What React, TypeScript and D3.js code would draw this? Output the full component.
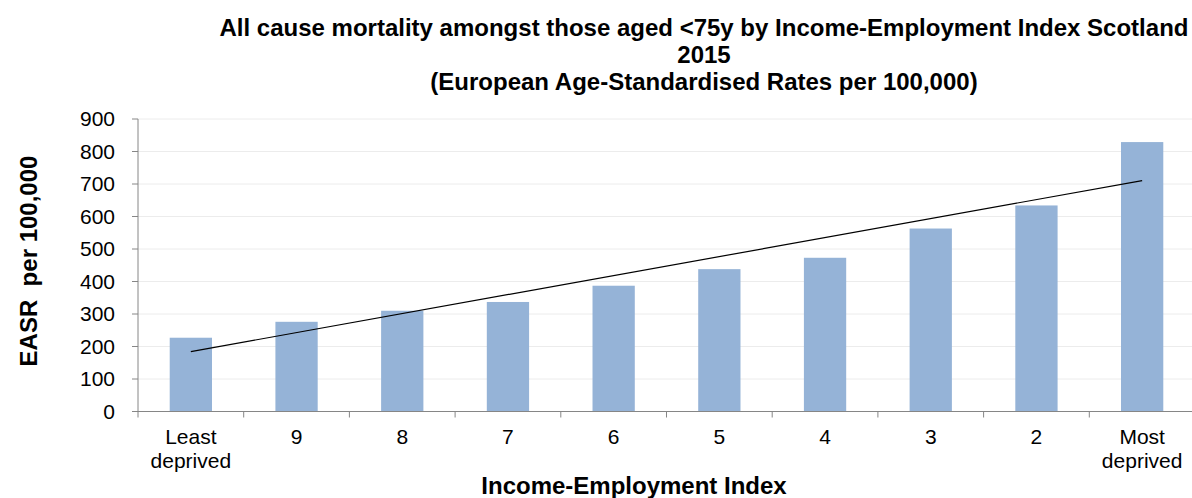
import React from "react";
import * as d3 from "d3";

const categories = ["Least\ndeprived", "9", "8", "7", "6", "5", "4", "3", "2", "Most\ndeprived"];
const values = [227, 276, 310, 337, 387, 438, 473, 563, 634, 829];
const yTicks = [0, 100, 200, 300, 400, 500, 600, 700, 800, 900];
const titleLines = [
  "All cause mortality amongst those aged <75y by Income-Employment Index Scotland",
  "2015",
  "(European Age-Standardised Rates per 100,000)",
];

const W = 1192;
const H = 498;
const left = 138;
const right = 1195;
const top = 119;
const bottom = 411.5;
const font = "'Liberation Sans', Arial, sans-serif";

export default function App() {
  const x = d3.scaleBand<string>().domain(categories).range([left, right]).paddingInner(0.6).paddingOuter(0.3);
  const xb = d3.scaleBand<string>().domain(categories).range([left, right]);
  const y = d3.scaleLinear().domain([0, 900]).range([bottom, top]);

  // linear trend line (least squares)
  const n = values.length;
  const xs = values.map((_, i) => i + 1);
  const mx = d3.mean(xs)!;
  const my = d3.mean(values)!;
  const slope =
    d3.sum(xs.map((xi, i) => (xi - mx) * (values[i] - my))) / d3.sum(xs.map((xi) => (xi - mx) ** 2));
  const icpt = my - slope * mx;
  const trendPts = [xs[0], xs[n - 1]];
  const trendPath = d3
    .line<number>()
    .x((xi) => xb(categories[xi - 1])! + xb.bandwidth() / 2)
    .y((xi) => y(icpt + slope * xi))(trendPts);

  return (
    <svg width={W} height={H} style={{ position: "absolute", left: 0, top: 0, background: "#fff" }} fontFamily={font}>
      {titleLines.map((t, i) => (
        <text key={i} x={704} y={36 + i * 27} textAnchor="middle" fontWeight="bold" fontSize={24}>
          {t}
        </text>
      ))}
      {yTicks.map((t) => (
        <g key={t}>
          {t > 0 && <line x1={left} x2={right} y1={y(t)} y2={y(t)} stroke="#ececec" strokeWidth={1} />}
          <line x1={left - 6} x2={left} y1={y(t)} y2={y(t)} stroke="#868686" />
          <text x={115} y={y(t)} dy="0.35em" textAnchor="end" fontSize={21}>
            {t}
          </text>
        </g>
      ))}
      {categories.map((c, i) => (
        <rect key={c} x={x(c)} y={y(values[i])} width={x.bandwidth()} height={bottom - y(values[i])} fill="#95b3d7" />
      ))}
      <line x1={left} x2={left} y1={top} y2={bottom} stroke="#868686" />
      <line x1={left} x2={right} y1={bottom} y2={bottom} stroke="#868686" />
      {categories.map((c, i) => (
        <line key={"t" + i} x1={xb(c)} x2={xb(c)} y1={bottom} y2={bottom + 6} stroke="#868686" />
      ))}
      {categories.map((c) => {
        const lines = c.split("\n");
        const cx = xb(c)! + xb.bandwidth() / 2;
        return (
          <text key={"l" + c} x={cx} y={444} textAnchor="middle" fontSize={21}>
            {lines.map((l, j) => (
              <tspan key={j} x={cx} dy={j === 0 ? 0 : 24}>
                {l}
              </tspan>
            ))}
          </text>
        );
      })}
      <path d={trendPath!} stroke="#000" strokeWidth={1.2} fill="none" />
      <text x={634} y={494} textAnchor="middle" fontWeight="bold" fontSize={24}>
        Income-Employment Index
      </text>
      <text
        transform={`translate(37,261) rotate(-90)`}
        textAnchor="middle"
        fontWeight="bold"
        fontSize={24}
        style={{ whiteSpace: "pre" }}
      >
        {"EASR  per 100,000"}
      </text>
    </svg>
  );
}
